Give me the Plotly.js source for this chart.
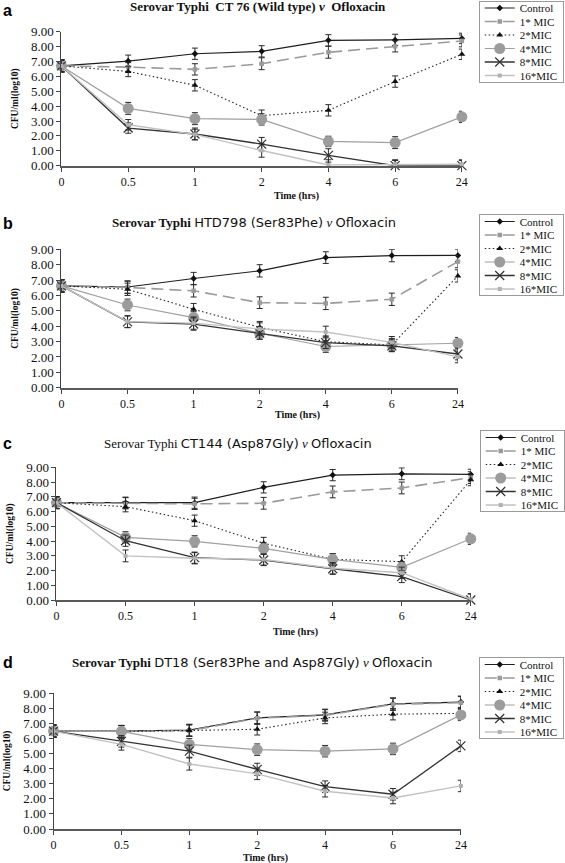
<!DOCTYPE html>
<html>
<head>
<meta charset="utf-8">
<script src="https://cdn.plot.ly/plotly-3.0.1.min.js"></script>
<style>html,body{margin:0;padding:0;background:#fff;}#chart{width:565px;height:863px;}</style>
</head>
<body>
<div id="chart"></div>
<script>
// ---------- data ----------
const TIMES = ['0', '0.5', '1', '2', '4', '6', '24'];
const SERIES = ['Control', '1* MIC', '2*MIC', '4*MIC', '8*MIC', '16*MIC'];
const PANEL_LETTERS = ['a', 'b', 'c', 'd'];
const X_TITLE = 'Time (hrs)';
const Y_TITLE = 'CFU/ml(log10)';

// Panel a: CT 76 (wild type)
const A_CONTROL = [6.70, 7.03, 7.52, 7.68, 8.42, 8.45, 8.55];
const A_MIC1    = [6.70, 6.62, 6.47, 6.85, 7.62, 8.02, 8.38];
const A_MIC2    = [6.70, 6.33, 5.40, 3.36, 3.72, 5.65, 7.48];
const A_MIC4    = [6.70, 3.85, 3.16, 3.11, 1.63, 1.55, 3.28];
const A_MIC8    = [6.70, 2.53, 2.13, 1.45, 0.69, 0.00, 0.00];
const A_MIC16   = [6.70, 2.75, 2.10, 1.02, 0.05, 0.10, 0.10];
const A_ERR_CONTROL = [0.40, 0.40, 0.38, 0.38, 0.38, 0.38, 0.35];
const A_ERR_MIC1    = [0.40, 0.30, 0.38, 0.40, 0.40, 0.38, 0.40];
const A_ERR_MIC2    = [0.40, 0.35, 0.38, 0.38, 0.38, 0.38, 0.35];
const A_ERR_MIC4    = [0.40, 0.40, 0.40, 0.38, 0.35, 0.40, 0.38];
const A_ERR_MIC8    = [0.40, 0.35, 0.40, 0.45, 0.45, 0.35, 0.35];
const A_ERR_MIC16   = [0.40, 0.35, 0.35, 0.45, 0.35, 0.30, 0.30];

// Panel b: HTD798 (Ser83Phe)
const B_CONTROL = [6.62, 6.55, 7.10, 7.60, 8.46, 8.59, 8.60];
const B_MIC1    = [6.62, 6.52, 6.30, 5.53, 5.48, 5.75, 8.20];
const B_MIC2    = [6.62, 6.40, 5.10, 3.93, 2.99, 2.78, 7.27];
const B_MIC4    = [6.62, 5.38, 4.56, 3.54, 2.68, 2.78, 2.89];
const B_MIC8    = [6.62, 4.28, 4.14, 3.55, 2.93, 2.72, 2.19];
const B_MIC16   = [6.62, 4.30, 4.20, 3.82, 3.62, 2.95, 2.00];
const B_ERR_CONTROL = [0.40, 0.40, 0.40, 0.40, 0.38, 0.40, 0.40];
const B_ERR_MIC1    = [0.40, 0.40, 0.40, 0.38, 0.40, 0.40, 0.40];
const B_ERR_MIC2    = [0.40, 0.40, 0.38, 0.38, 0.38, 0.40, 0.40];
const B_ERR_MIC4    = [0.40, 0.38, 0.38, 0.38, 0.38, 0.40, 0.38];
const B_ERR_MIC8    = [0.40, 0.38, 0.40, 0.40, 0.38, 0.38, 0.38];
const B_ERR_MIC16   = [0.40, 0.38, 0.40, 0.40, 0.38, 0.38, 0.38];

// Panel c: CT144 (Asp87Gly)
const C_CONTROL = [6.60, 6.60, 6.60, 7.64, 8.47, 8.56, 8.52];
const C_MIC1    = [6.60, 6.56, 6.52, 6.56, 7.33, 7.60, 8.30];
const C_MIC2    = [6.60, 6.33, 5.38, 3.85, 2.76, 2.60, 8.15];
const C_MIC4    = [6.60, 4.25, 3.98, 3.50, 2.76, 2.22, 4.15];
const C_MIC8    = [6.60, 4.02, 2.87, 2.71, 2.12, 1.58, 0.00];
const C_MIC16   = [6.60, 2.99, 2.83, 2.75, 2.15, 1.85, 0.05];
const C_ERR_CONTROL = [0.40, 0.38, 0.38, 0.38, 0.38, 0.40, 0.35];
const C_ERR_MIC1    = [0.40, 0.38, 0.38, 0.40, 0.40, 0.40, 0.40];
const C_ERR_MIC2    = [0.40, 0.35, 0.38, 0.40, 0.38, 0.40, 0.40];
const C_ERR_MIC4    = [0.40, 0.38, 0.38, 0.38, 0.38, 0.38, 0.38];
const C_ERR_MIC8    = [0.40, 0.38, 0.38, 0.38, 0.38, 0.40, 0.40];
const C_ERR_MIC16   = [0.40, 0.40, 0.38, 0.38, 0.38, 0.38, 0.38];

// Panel d: DT18 (Ser83Phe and Asp87Gly)
const D_CONTROL = [6.48, 6.48, 6.55, 7.35, 7.55, 8.28, 8.40];
const D_MIC1    = [6.48, 6.46, 6.50, 7.33, 7.52, 8.25, 8.36];
const D_MIC2    = [6.48, 6.46, 6.52, 6.60, 7.35, 7.60, 7.65];
const D_MIC4    = [6.48, 6.46, 5.60, 5.25, 5.15, 5.30, 7.55];
const D_MIC8    = [6.48, 5.80, 5.15, 3.95, 2.80, 2.30, 5.50];
const D_MIC16   = [6.48, 5.60, 4.30, 3.65, 2.50, 2.05, 2.85];
const D_ERR_CONTROL = [0.40, 0.38, 0.38, 0.40, 0.38, 0.40, 0.40];
const D_ERR_MIC1    = [0.40, 0.38, 0.38, 0.40, 0.38, 0.40, 0.40];
const D_ERR_MIC2    = [0.40, 0.38, 0.40, 0.38, 0.38, 0.38, 0.40];
const D_ERR_MIC4    = [0.40, 0.38, 0.38, 0.38, 0.38, 0.38, 0.38];
const D_ERR_MIC8    = [0.40, 0.38, 0.40, 0.40, 0.38, 0.38, 0.38];
const D_ERR_MIC16   = [0.40, 0.38, 0.40, 0.38, 0.38, 0.38, 0.38];

const PANEL_VALUES = [
  [A_CONTROL, A_MIC1, A_MIC2, A_MIC4, A_MIC8, A_MIC16],
  [B_CONTROL, B_MIC1, B_MIC2, B_MIC4, B_MIC8, B_MIC16],
  [C_CONTROL, C_MIC1, C_MIC2, C_MIC4, C_MIC8, C_MIC16],
  [D_CONTROL, D_MIC1, D_MIC2, D_MIC4, D_MIC8, D_MIC16]
];
const PANEL_ERRORS = [
  [A_ERR_CONTROL, A_ERR_MIC1, A_ERR_MIC2, A_ERR_MIC4, A_ERR_MIC8, A_ERR_MIC16],
  [B_ERR_CONTROL, B_ERR_MIC1, B_ERR_MIC2, B_ERR_MIC4, B_ERR_MIC8, B_ERR_MIC16],
  [C_ERR_CONTROL, C_ERR_MIC1, C_ERR_MIC2, C_ERR_MIC4, C_ERR_MIC8, C_ERR_MIC16],
  [D_ERR_CONTROL, D_ERR_MIC1, D_ERR_MIC2, D_ERR_MIC4, D_ERR_MIC8, D_ERR_MIC16]
];

// ---------- layout geometry (pixels) ----------
const W = 565, H = 863;
const SERIF = '"Liberation Serif", "Times New Roman", serif';
const GEOM = [
  {x0: 62, x1: 466, yTop: 31.7, yBot: 165.7, legX: 483, legY: 0.5, titleX: 260, titleY: 6,   xtX: 299, xtY: 196, letY: 10},
  {x0: 62, x1: 462, yTop: 249.3, yBot: 387.7, legX: 483, legY: 214, titleX: 256, titleY: 223, xtX: 300, xtY: 415, letY: 224},
  {x0: 57, x1: 475, yTop: 467.3, yBot: 600,  legX: 484, legY: 430, titleX: 240, titleY: 443, xtX: 298, xtY: 632, letY: 443},
  {x0: 54, x1: 465, yTop: 693,  yBot: 829,   legX: 483, legY: 657, titleX: 255, titleY: 662, xtX: 268, xtY: 857.5, letY: 662}
];
const SANS_SPAN = (t) => '<span style="font-family:\'DejaVu Sans\'">' + t + '</span>';
const TITLE_HTML = [
  '<b>Serovar Typhi  CT 76 (Wild type) <i>v</i>  Ofloxacin</b>',
  '<b>Serovar Typhi</b> ' + SANS_SPAN('HTD798 (Ser83Phe)') + ' <i>v</i> ' + SANS_SPAN('Ofloxacin'),
  'Serovar Typhi ' + SANS_SPAN('CT144 (Asp87Gly)') + ' <i>v</i> ' + SANS_SPAN('Ofloxacin'),
  '<b>Serovar Typhi</b> ' + SANS_SPAN('DT18 (Ser83Phe and Asp87Gly)') + ' <i>v</i> ' + SANS_SPAN('Ofloxacin')
];
// compact legend rows (the reference legend boxes are ~82 px tall)
const LEG_FIRST = 7.5, LEG_STEP = 13.5, LEG_H = 82;

// ---------- series styles ----------
const STYLES = [
  {line: {color: '#1e1e1e', width: 1.2, dash: 'solid'}, marker: {symbol: 'diamond', size: 5, color: '#111'}},
  {line: {color: '#9a9a9a', width: 1.6, dash: '12px,6px'}, marker: {symbol: 'square', size: 4.5, color: '#9a9a9a'}},
  {line: {color: '#222', width: 1.1, dash: '1.5px,2.5px'}, marker: {symbol: 'triangle-up', size: 6, color: '#111'}},
  {line: {color: '#a0a0a0', width: 1.2, dash: 'solid'}, marker: {symbol: 'circle', size: 11, color: '#9c9c9c'}},
  {line: {color: '#333', width: 1.3, dash: 'solid'}, marker: {symbol: 'x-thin-open', size: 9, color: '#333', line: {color: '#333', width: 1.2}}},
  {line: {color: '#c2c2c2', width: 1.4, dash: 'solid'}, marker: {symbol: 'square', size: 4, color: '#b0b0b0'}}
];

const traces = [];
const layout = {
  width: W, height: H,
  margin: {l: 0, r: 0, t: 0, b: 0},
  paper_bgcolor: '#fff', plot_bgcolor: '#fff',
  font: {family: SERIF, color: '#111', size: 12},
  showlegend: true,
  annotations: []
};

PANEL_VALUES.forEach((vals, p) => {
  const g = GEOM[p];
  const sfx = p === 0 ? '' : String(p + 1);
  const xa = 'x' + sfx, ya = 'y' + sfx;
  const legName = 'legend' + sfx;

  layout['xaxis' + sfx] = {
    type: 'category', domain: [g.x0 / W, g.x1 / W], anchor: ya,
    range: [0, TIMES.length - 1], fixedrange: true,
    showline: true, linecolor: '#5a5a5a', linewidth: 2,
    ticks: 'outside', ticklen: 4, tickcolor: '#444', tickwidth: 1,
    showgrid: false, zeroline: false,
    tickfont: {family: SERIF, size: 12, color: '#111'}
  };
  layout['yaxis' + sfx] = {
    domain: [1 - g.yBot / H, 1 - g.yTop / H], anchor: xa,
    range: [0, 9], dtick: 1, tickformat: '.2f', fixedrange: true,
    showline: true, linecolor: '#444', linewidth: 1,
    ticks: 'outside', ticklen: 4, tickcolor: '#444',
    showgrid: false, zeroline: false,
    tickfont: {family: SERIF, size: 13, color: '#111'},
    title: {text: '<b>' + Y_TITLE + '</b>', font: {family: SERIF, size: 9.5, color: '#111'}, standoff: 10}
  };
  layout[legName] = {
    x: g.legX / W, y: 1 - g.legY / H, xanchor: 'left', yanchor: 'top',
    bordercolor: '#9a9a9a', borderwidth: 1, bgcolor: '#fff',
    font: {family: SERIF, size: 11, color: '#111'},
    itemwidth: 30, tracegroupgap: 0
  };

  vals.forEach((v, s) => {
    const st = STYLES[s];
    traces.push({
      type: 'scatter', mode: 'lines+markers',
      x: TIMES, y: v, name: SERIES[s],
      xaxis: xa, yaxis: ya, legend: legName,
      line: st.line, marker: st.marker, cliponaxis: false,
      error_y: {type: 'data', array: PANEL_ERRORS[p][s], visible: true, color: '#2a2a2a', thickness: 1, width: 3}
    });
  });

  layout.annotations.push({
    xref: 'paper', yref: 'paper', x: g.titleX / W, y: 1 - g.titleY / H,
    xanchor: 'center', yanchor: 'middle', showarrow: false,
    text: TITLE_HTML[p], font: {family: SERIF, size: 13, color: '#111'}
  });
  layout.annotations.push({
    xref: 'paper', yref: 'paper', x: g.xtX / W, y: 1 - g.xtY / H,
    xanchor: 'center', yanchor: 'middle', showarrow: false,
    text: '<b>' + X_TITLE + '</b>', font: {family: SERIF, size: 10, color: '#111'}
  });
  layout.annotations.push({
    xref: 'paper', yref: 'paper', x: 1 / W, y: 1 - g.letY / H,
    xanchor: 'left', yanchor: 'middle', showarrow: false,
    text: '<b>' + PANEL_LETTERS[p] + '</b>', font: {family: '"Liberation Sans", Arial, sans-serif', size: 16, color: '#000'}
  });
});

Plotly.newPlot('chart', traces, layout, {displayModeBar: false, staticPlot: true}).then(gd => {
  ['legend', 'legend2', 'legend3', 'legend4'].forEach(id => {
    const leg = gd.querySelector('g.' + id);
    if (!leg) return;
    leg.querySelectorAll('g.traces').forEach((it, i) => {
      const m = /translate\(\s*([-\d.eE]+)[ ,]+([-\d.eE]+)\s*\)/.exec(it.getAttribute('transform') || '');
      const x = m ? parseFloat(m[1]) : 0;
      it.setAttribute('transform', 'translate(' + x + ',' + (LEG_FIRST + i * LEG_STEP) + ')');
    });
    const bg = leg.querySelector('rect.bg');
    if (bg) bg.setAttribute('height', LEG_H - 1);
  });
});
</script>
</body>
</html>
